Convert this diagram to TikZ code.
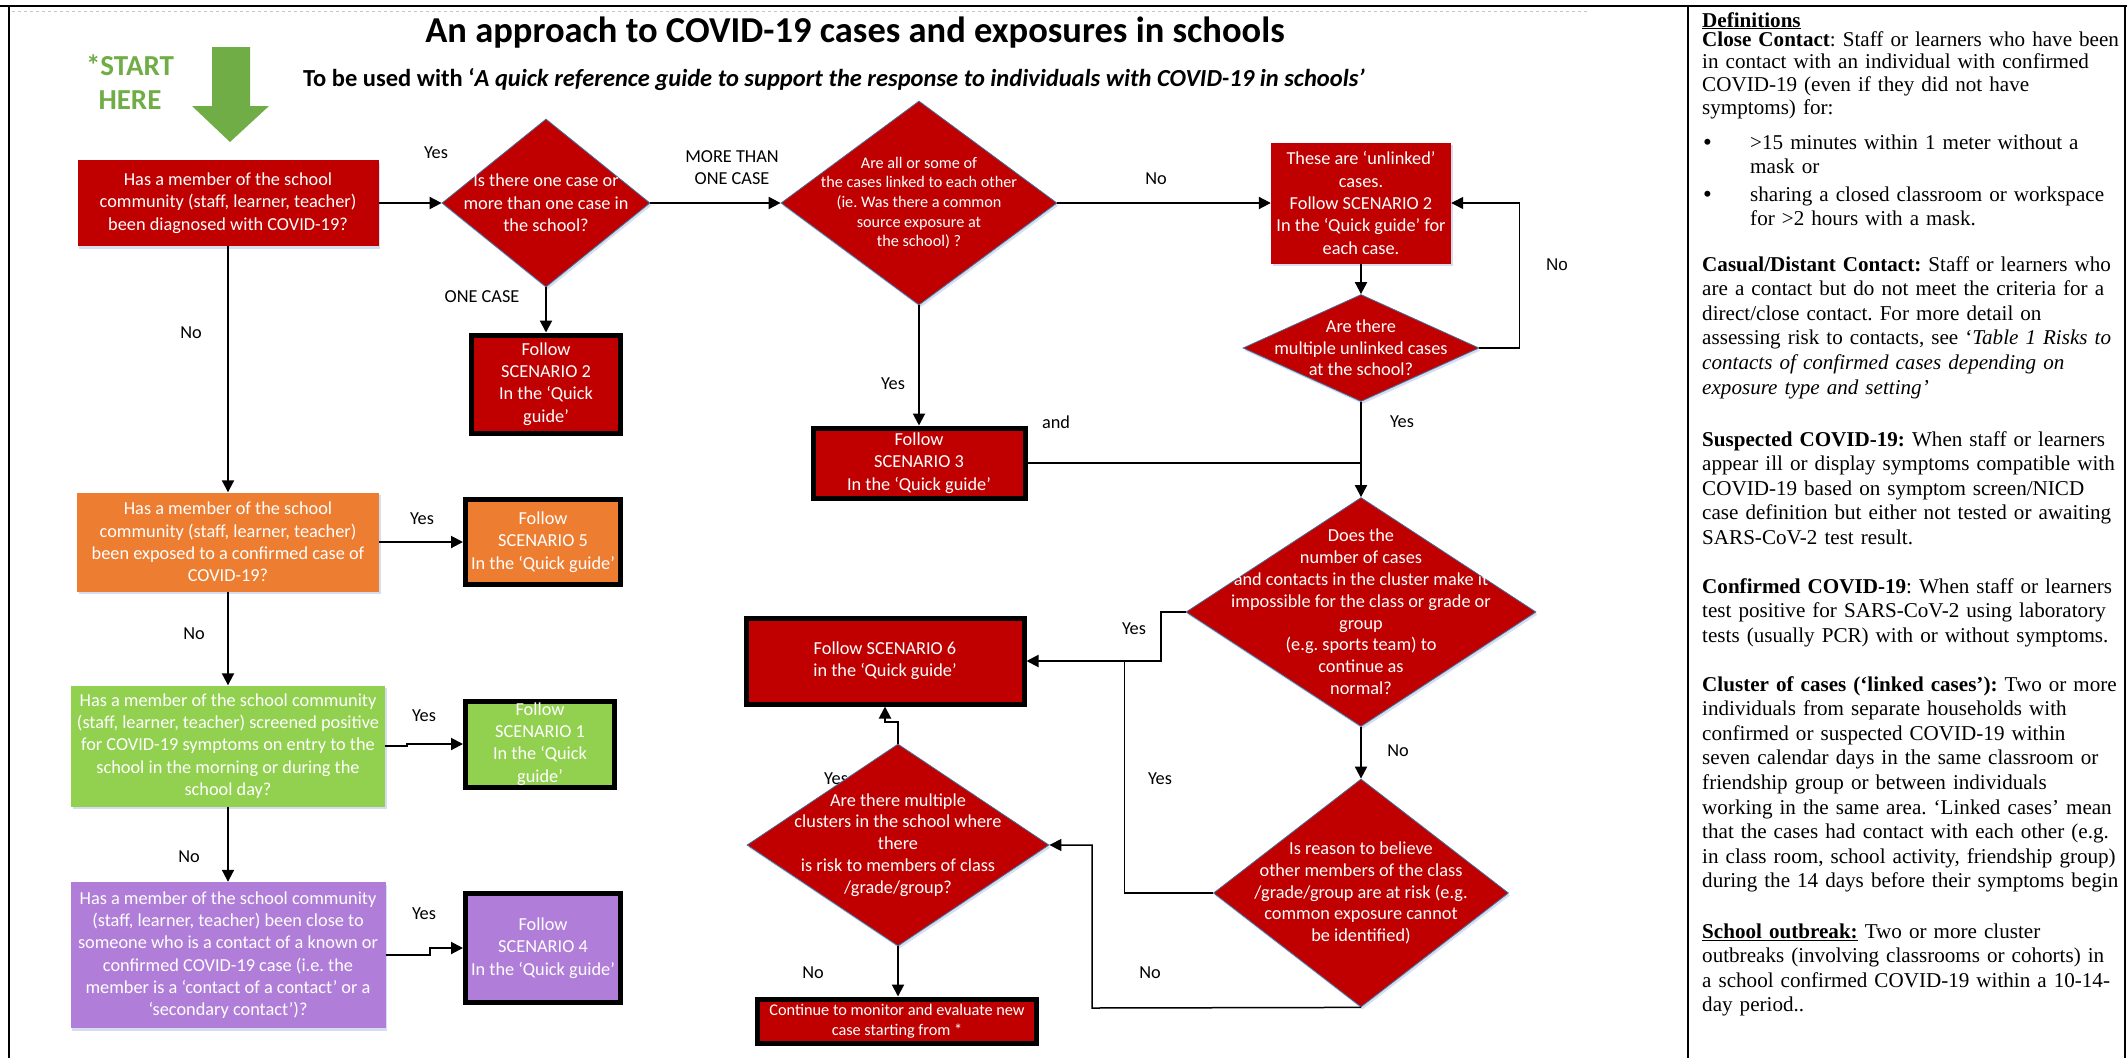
\documentclass[tikz,border=0pt]{standalone}
\usepackage{fontspec}
\setmainfont{Liberation Serif}
\newfontfamily\calibri{Carlito}
\newfontfamily\arialfont{Liberation Sans}
\usetikzlibrary{arrows.meta,positioning,calc,shapes.geometric,shadows}

\definecolor{cred}{RGB}{192,0,0}
\definecolor{corange}{RGB}{237,125,49}
\definecolor{cgreen}{RGB}{146,208,80}
\definecolor{cpurple}{RGB}{176,126,216}
\definecolor{cstart}{RGB}{112,173,71}
\definecolor{cedge}{RGB}{65,113,156}
\definecolor{cshadow}{RGB}{170,190,225}

\newcommand{\fcfont}{\calibri\fontsize{18.3}{22.3}\selectfont}
\frenchspacing

\begin{document}
\begin{tikzpicture}[x=1pt,y=-1pt,
    box/.style={rectangle, fill=cred, text=white, font=\fcfont, align=center, inner sep=0pt,
      drop shadow={shadow xshift=1.5pt, shadow yshift=-2.5pt, fill=cshadow, opacity=0.5}},
    scen/.style={box, draw=black, line width=5pt},
    diam/.style={diamond, fill=cred, draw=cedge, line width=0.8pt, inner sep=0pt,
      drop shadow={shadow xshift=1.5pt, shadow yshift=-2.5pt, fill=cshadow, opacity=0.5}},
    dtext/.style={text=white, font=\fcfont, align=center, inner sep=0pt},
    arr/.style={line width=2pt, -{Triangle[length=12pt,width=12pt]}},
    link/.style={line width=1.5pt},
    linkarr/.style={link, -{Triangle[length=12pt,width=12pt]}},
    lbl/.style={font=\fcfont, align=center, inner sep=0pt},
    deftext/.style={font=\fontsize{21.1}{24.6}\selectfont, align=left, inner sep=0pt,
      text width=425pt, anchor=base west}
  ]
    \useasboundingbox (0,0) rectangle (2127,1058);

    % Rahmen
    \draw[line width=1.5pt] (0,6) -- (2127,6);
    \draw[line width=1.5pt] (9,6) -- (9,1058);
    \draw[line width=2pt] (1688,6) -- (1688,1058);
    \draw[line width=1.5pt] (2125,6) -- (2125,1058);
    \draw[gray!45, dashed, line width=0.6pt] (12,11) -- (1588,11);

    % Titel
    \node[font=\calibri\bfseries\fontsize{36.5}{42}\selectfont, inner sep=0pt] (title) at (855,33)
      {An approach to COVID-19 cases and exposures in schools};
    \node[font=\calibri\bfseries\fontsize{24.5}{28}\selectfont, inner sep=0pt] (subtitle) at (834,80)
      {To be used with ‘\textit{A quick reference guide to support the response to individuals with COVID-19 in schools’}};

    % Start
    \node[font=\calibri\bfseries\fontsize{29}{34}\selectfont, text=cstart, align=center, inner sep=0pt] (start) at (130,82)
      {*START\\HERE};
    \fill[cstart] (212,47) -- (250,47) -- (250,106) -- (269,106) -- (230,142) -- (192,106) -- (212,106) -- cycle;

    % Linke Spalte
    \node[box, minimum width=301pt, minimum height=86pt] (A) at (228,203)
      {Has a member of the school\\community (staff, learner, teacher)\\been diagnosed with COVID-19?};
    \node[box, fill=corange, minimum width=302pt, minimum height=99pt] (O) at (228,542)
      {Has a member of the school\\community (staff, learner, teacher)\\been exposed to a confirmed case of\\COVID-19?};
    \node[box, fill=cgreen, minimum width=314pt, minimum height=121pt] (Gr) at (228,746)
      {Has a member of the school community\\(staff, learner, teacher) screened positive\\for COVID-19 symptoms on entry to the\\school in the morning or during the\\school day?};
    \node[box, fill=cpurple, minimum width=315pt, minimum height=146pt] (P) at (228,955)
      {Has a member of the school community\\(staff, learner, teacher) been close to\\someone who is a contact of a known or\\confirmed COVID-19 case (i.e. the\\member is a ‘contact of a contact’ or a\\‘secondary contact’)?};

    % Szenarien
    \node[scen, minimum width=149pt, minimum height=98pt] (S2) at (546,384) {Follow\\SCENARIO 2\\In the ‘Quick\\guide’};
    \node[scen, fill=corange, minimum width=155pt, minimum height=85pt] (S5) at (543,542) {Follow\\SCENARIO 5\\In the ‘Quick guide’};
    \node[scen, fill=cgreen, minimum width=149pt, minimum height=86pt] (S1) at (540,744) {Follow\\SCENARIO 1\\In the ‘Quick\\guide’};
    \node[scen, fill=cpurple, minimum width=155pt, minimum height=109pt] (S4) at (543,948) {Follow\\SCENARIO 4\\In the ‘Quick guide’};
    \node[scen, minimum width=212pt, minimum height=70pt] (S3) at (919,463) {Follow\\SCENARIO 3\\In the ‘Quick guide’};
    \node[scen, minimum width=278pt, minimum height=86pt] (S6) at (885,661) {Follow SCENARIO 6\\in the ‘Quick guide’};
    \node[scen, minimum width=279pt, minimum height=44pt, font=\calibri\fontsize{16.3}{20}\selectfont] (K) at (897,1021)
      {Continue to monitor and evaluate new\\case starting from *};
    \node[box, minimum width=180pt, minimum height=121pt] (D) at (1361,203)
      {These are ‘unlinked’\\cases.\\Follow SCENARIO 2\\In the ‘Quick guide’ for\\each case.};

    % Label hinter Raute
    \node[lbl] (yesH) at (836,779) {Yes};

    % Rauten
    \node[diam, minimum width=208pt, minimum height=168pt] (B) at (546,203) {};
    \node[dtext] (Bt) at (B) {Is there one case or\\more than one case in\\the school?};
    \node[diam, minimum width=276pt, minimum height=204pt] (C) at (919,203) {};
    \node[dtext, font=\calibri\fontsize{16.2}{19.6}\selectfont] (Ct) at (C)
      {Are all or some of\\the cases linked to each other\\(ie. Was there a common\\source exposure at\\the school) ?};
    \node[diam, minimum width=236pt, minimum height=107pt] (E) at (1361,348) {};
    \node[dtext, font=\calibri\fontsize{18.3}{21.5}\selectfont] (Et) at (E) {Are there\\multiple unlinked cases\\at the school?};
    \node[diam, minimum width=350pt, minimum height=229pt] (F) at (1361,612) {};
    \node[dtext, font=\calibri\fontsize{18.3}{21.8}\selectfont] (Ft) at (F)
      {Does the\\number of cases\\and contacts in the cluster make it\\impossible for the class or grade or\\group\\(e.g. sports team) to\\continue as\\normal?};
    \node[diam, minimum width=295pt, minimum height=228pt] (G) at (1361,893) {};
    \node[dtext, font=\calibri\fontsize{18.3}{21.8}\selectfont] (Gt) at (G)
      {Is reason to believe\\other members of the class\\/grade/group are at risk (e.g.\\common exposure cannot\\be identified)};
    \node[diam, minimum width=302pt, minimum height=202pt] (H) at (898,845) {};
    \node[dtext, font=\calibri\fontsize{18.3}{21.8}\selectfont] (Ht) at (H)
      {Are there multiple\\clusters in the school where\\there\\is risk to members of class\\/grade/group?};

    % Verbindungen
    \draw[arr] (A.east) -- (B.west);
    \draw[arr] (B.east) -- (C.west);
    \draw[arr] (C.east) -- (D.west);
    \draw[arr] (B.south) -- (S2.north);
    \draw[arr] (C.south) -- (S3.north);
    \draw[arr] (D.south) -- (E.north);
    \draw[linkarr] (E.east) -- ++(40,0) |- (D.east);
    \draw[arr] (E.south) -- (F.north);
    \draw[link] (S3.east) -- (S3.east -| F.north);
    \draw[arr] (F.west) -- ++(-25,0) |- (S6.east);
    \draw[arr] (F.south) -- (G.north);
    \draw[link] (G.west) -| ($(S6.east)+(98,0)$);
    \coordinate (gn) at (1092,1008);
    \draw[linkarr] (G.south) -- (gn) |- (H.east);
    \draw[arr] (H.north) -- ++(0,-22) -| (S6.south);
    \draw[arr] (H.south) -- (H.south |- K.north);
    \draw[arr] (A.south) -- (O.north);
    \draw[arr] (O.east) -- (S5.west);
    \draw[arr] (O.south) -- (Gr.north);
    \draw[arr] (Gr.east) -- ++(22,0) |- (S1.west);
    \draw[arr] (Gr.south) -- (P.north);
    \draw[arr] (P.east) -- ++(44,0) |- (S4.west);

    % Beschriftungen
    \node[lbl] (yesB) at (436,153) {Yes};
    \node[lbl, font=\calibri\fontsize{18.3}{22}\selectfont] (more) at (732,168) {MORE THAN\\ONE CASE};
    \node[lbl] (one) at (482,297) {ONE CASE};
    \node[lbl] (noC) at (1156,179) {No};
    \node[lbl, font=\arialfont\fontsize{17}{19}\selectfont] (noE) at (1557,265) {No};
    \node[lbl] (yesE) at (1402,422) {Yes};
    \node[lbl] (yesC) at (893,384) {Yes};
    \node[lbl] (and) at (1056,422) {and};
    \node[lbl] (noA) at (191,333) {No};
    \node[lbl] (yesO) at (422,519) {Yes};
    \node[lbl] (noO) at (194,634) {No};
    \node[lbl] (yesGr) at (424,716) {Yes};
    \node[lbl] (noGr) at (189,857) {No};
    \node[lbl] (yesP) at (424,914) {Yes};
    \node[lbl] (yesF) at (1134,629) {Yes};
    \node[lbl] (yesG) at (1160,779) {Yes};
    \node[lbl] (noF) at (1398,751) {No};
    \node[lbl] (noG) at (1150,973) {No};
    \node[lbl] (noH) at (813,973) {No};

    % Definitionen
    \node[deftext] (defhead) at (1702,27) {\textbf{\underline{Definitions}}};
    \node[deftext, font=\fontsize{21.1}{22.8}\selectfont] (close) at (1702,46)
      {\textbf{Close Contact}: Staff or learners who have been\\in contact with an individual with confirmed\\COVID-19 (even if they did not have\\symptoms) for:};
    \node[deftext, text width=20pt, font=\fontsize{25}{25}\selectfont] (bul1) at (1703,150) {\textbullet};
    \node[deftext, text width=380pt] (item1) at (1750,149) {>15 minutes within 1 meter without a\\mask or};
    \node[deftext, text width=20pt, font=\fontsize{25}{25}\selectfont] (bul2) at (1703,202) {\textbullet};
    \node[deftext, text width=380pt] (item2) at (1750,201) {sharing a closed classroom or workspace\\for >2 hours with a mask.};
    \node[deftext] (casual) at (1702,271)
      {\textbf{Casual/Distant Contact:} Staff or learners who\\are a contact but do not meet the criteria for a\\direct/close contact. For more detail on\\assessing risk to contacts, see ‘\textit{Table 1 Risks to}\\\textit{contacts of confirmed cases depending on}\\\textit{exposure type and setting’}};
    \node[deftext] (susp) at (1702,446)
      {\textbf{Suspected COVID-19:} When staff or learners\\appear ill or display symptoms compatible with\\COVID-19 based on symptom screen/NICD\\case definition but either not tested or awaiting\\SARS-CoV-2 test result.};
    \node[deftext] (conf) at (1702,593)
      {\textbf{Confirmed COVID-19}: When staff or learners\\test positive for SARS-CoV-2 using laboratory\\tests (usually PCR) with or without symptoms.};
    \node[deftext] (cluster) at (1702,691)
      {\textbf{Cluster of cases (‘linked cases’):} Two or more\\individuals from separate households with\\confirmed or suspected COVID-19 within\\seven calendar days in the same classroom or\\friendship group or between individuals\\working in the same area. ‘Linked cases’ mean\\that the cases had contact with each other (e.g.\\in class room, school activity, friendship group)\\during the 14 days before their symptoms begin};
    \node[deftext] (outbreak) at (1702,938)
      {\textbf{\underline{School outbreak:}} Two or more cluster\\outbreaks (involving classrooms or cohorts) in\\a school confirmed COVID-19 within a 10-14-\\day period..};
\end{tikzpicture}
\end{document}
